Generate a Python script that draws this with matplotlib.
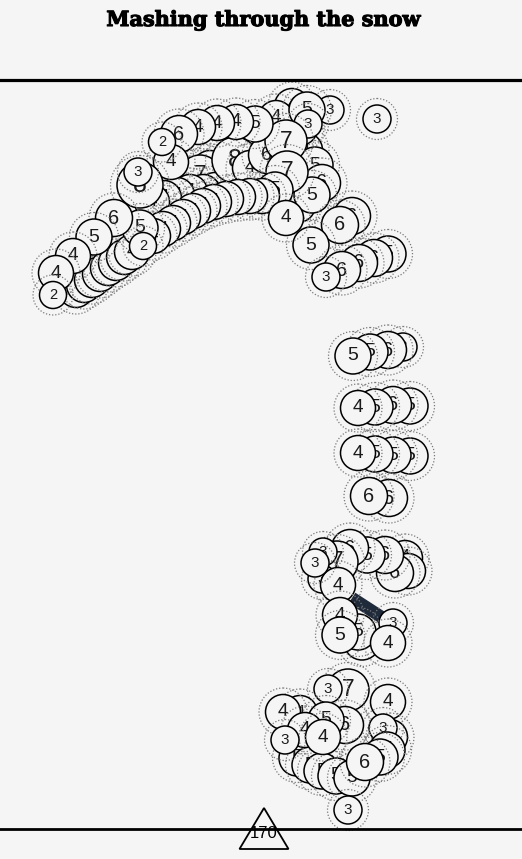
import matplotlib.pyplot as plt
import matplotlib.patheffects as pe
from matplotlib.patches import Circle, Polygon

BG = '#f6f5f5'

# circles along the trail, listed in drawing order (back first)
# x, y are screen positions (pixels from top-left), v is the label
arm_x = [298, 305, 315, 322, 312, 300, 222, 236, 250, 262, 210, 200,
         215, 203, 190, 177, 164, 152,
         235, 250, 267,
         292, 276, 330, 307, 308, 286, 287, 275, 255, 236, 217, 198, 179, 171, 162,
         140, 138,
         76, 84, 92, 100, 108, 116, 124, 132,
         262, 250, 238, 226, 214, 203, 193, 183, 173, 163, 153,
         140, 143,
         114, 94, 73, 56, 53]
arm_y = [205, 150, 165, 183, 195, 128, 180, 184, 186, 190, 168, 176,
         190, 192, 192, 195, 198, 202,
         160, 168, 155,
         106, 118, 110, 110, 124, 141, 172, 190, 124, 122, 123, 127, 134, 162, 142,
         185, 172,
         290, 285, 280, 274, 268, 263, 257, 252,
         196, 196, 197, 199, 202, 206, 211, 217, 223, 229, 236,
         228, 246,
         218, 237, 256, 273, 295]
arm_v = [4, 4, 5, 6, 5, 4, 5, 5, 5, 4, 4, 7,
         4, 4, 4, 4, 4, 4,
         8, 4, 6,
         4, 4, 3, 5, 3, 7, 7, 5, 5, 4, 4, 4, 6, 4, 2,
         8, 3,
         4, 4, 4, 4, 4, 4, 4, 4,
         4, 4, 4, 4, 4, 4, 4, 4, 4, 4, 4,
         5, 2,
         6, 5, 4, 4, 2]

lone_x = [377]
lone_y = [119]
lone_v = [3]

tail_x = [352, 340, 311, 286, 388, 374, 359, 342, 326]
tail_y = [216, 225, 245, 218, 254, 258, 263, 270, 277]
tail_v = [6, 6, 5, 4, 5, 6, 6, 6, 3]

col_x = [403, 388, 370, 353, 410, 393, 375, 358, 410, 393, 375, 358, 389, 369]
col_y = [347, 350, 352, 356, 406, 405, 407, 408, 456, 455, 454, 453, 498, 496]
col_v = [3, 6, 5, 5, 5, 6, 5, 4, 5, 5, 5, 4, 6, 6]

mid_x = [405, 408, 395, 385, 367, 350, 337, 323, 322, 338, 315,
         362, 358, 340, 340, 393, 388]
mid_y = [558, 571, 573, 555, 555, 548, 562, 552, 579, 585, 563,
         642, 632, 615, 635, 623, 643]
mid_v = [4, 4, 6, 6, 5, 6, 7, 3, 3, 4, 3,
         5, 5, 4, 5, 3, 4]

low_x = [348, 328, 388, 300, 283, 390, 383, 387, 380,
         297, 310, 322, 336, 352, 345, 326, 305, 323, 285, 365, 348]
low_y = [690, 689, 702, 713, 712, 737, 728, 750, 757,
         758, 765, 771, 776, 778, 725, 720, 730, 737, 740, 762, 810]
low_v = [7, 3, 4, 4, 4, 4, 3, 5, 5,
         5, 5, 5, 5, 5, 6, 5, 4, 4, 3, 6, 3]

# short piece of trail that shows between the circles
trail_x = [352, 386]
trail_y = [598, 620]

mile_x = [264]
mile_label = ['170']
line_top = 80
line_bottom = 829

radius = {2: 13.5, 3: 14, 4: 17.5, 5: 18, 6: 18.5, 7: 21, 8: 23}

segments = [(arm_x, arm_y, arm_v), (lone_x, lone_y, lone_v), (tail_x, tail_y, tail_v),
            (col_x, col_y, col_v), (mid_x, mid_y, mid_v), (low_x, low_y, low_v)]

fig = plt.figure(figsize=(5.22, 8.59), dpi=100, facecolor=BG)
ax = fig.add_axes([0, 0, 1, 1])
ax.set_facecolor(BG)
ax.set_xlim(0, 522)
ax.set_ylim(859, 0)
ax.axis('off')

ax.plot(trail_x, trail_y, color='#1f2a3a', lw=9, solid_capstyle='butt', zorder=1)

z = 2
for xs, ys, vs in segments:
    for x, y, v in zip(xs, ys, vs):
        r = radius[v]
        ax.add_patch(Circle((x, y), r + 6.5, fill=False, ec='#7a7a7a', lw=0.9,
                            ls=(0, (1, 1.5)), zorder=z))
        ax.add_patch(Circle((x, y), r, fc=BG, ec='black', lw=1.1, zorder=z + 1))
        ax.text(x, y, str(v), ha='center', va='center', fontsize=r * 0.78,
                color='#1a1a1a', family='Liberation Sans', zorder=z + 2)
        z += 3

ax.axhline(line_top, color='black', lw=2.3, zorder=z)
for mx, lab in zip(mile_x, mile_label):
    ax.add_patch(Polygon([(mx, line_bottom - 21), (mx - 24.5, line_bottom + 20),
                          (mx + 24.5, line_bottom + 20)], closed=True, fill=False,
                         ec='black', lw=1.3, zorder=z))
    ax.text(mx, line_bottom + 4, lab, ha='center', va='center', fontsize=12,
            color='black', family='Liberation Sans', zorder=z + 2)
ax.axhline(line_bottom, color='black', lw=2, zorder=z + 1)

ax.text(264, 20, 'Mashing through the snow', ha='center', va='center',
        fontsize=15, fontweight='bold', family='DejaVu Serif', color='black',
        path_effects=[pe.withStroke(linewidth=0.8, foreground='black')])

fig.savefig('out.png', dpi=100, facecolor=BG)
